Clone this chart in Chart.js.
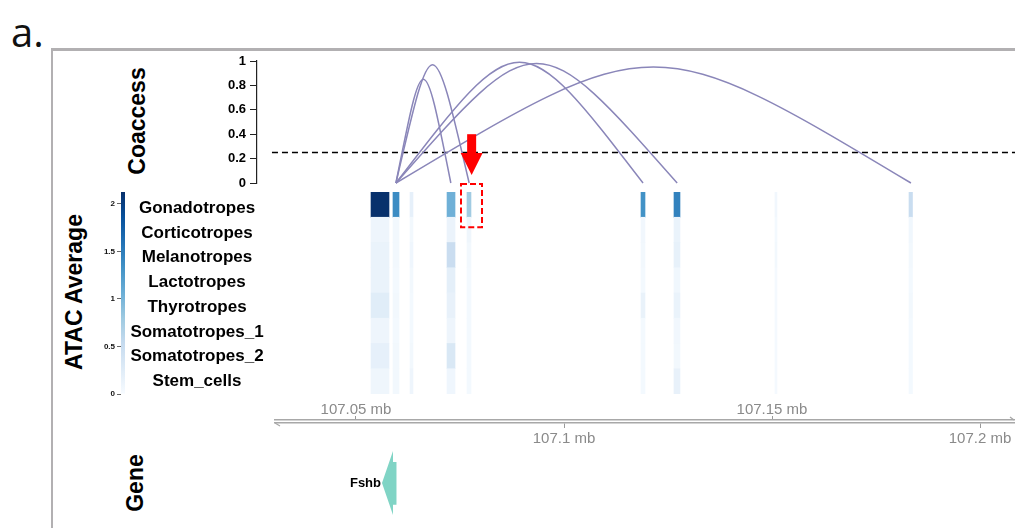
<!DOCTYPE html>
<html lang="en">
<head>
  <meta charset="UTF-8">
  <title>Fshb locus: coaccessibility and ATAC average</title>
  <script src="https://cdn.jsdelivr.net/npm/chart.js"></script>
  <style>
    html, body { margin: 0; padding: 0; background: #fff; }
    #stage { position: relative; width: 1015px; height: 528px; overflow: hidden; font-family: "Liberation Sans", Arial, sans-serif; }
    #stage canvas { position: absolute; left: 0; top: 0; }
    .frame { position: absolute; left: 51px; top: 48px; width: 1100px; height: 477px;
             border-top: 3px solid #b2b0b2; border-left: 2px solid #b2b0b2; border-bottom: 1px solid #e2e2e2; }
    .panel-label { position: absolute; left: 11px; top: 4px; font-family: "Open Sans", sans-serif; font-size: 40px; color: #111; }
    .track-title { position: absolute; font-weight: bold; font-size: 23px; color: #000; white-space: nowrap;
                   transform: translate(-50%, -50%) rotate(-90deg); }
  </style>
</head>
<body>
<div id="stage">
  <div class="frame"></div>
  <div class="panel-label">a.</div>
  <div class="track-title" style="left:137px; top:121px;">Coaccess</div>
  <div class="track-title" style="left:74px; top:292px;">ATAC Average</div>
  <div class="track-title" style="left:135px; top:483px;">Gene</div>
</div>
<script>
  // ---- data (positions in mb on the chromosome) ----
  const cellTypes = ['Gonadotropes', 'Corticotropes', 'Melanotropes', 'Lactotropes',
                     'Thyrotropes', 'Somatotropes_1', 'Somatotropes_2', 'Stem_cells'];

  // ATAC peaks shown in the heatmap
  const peakStart = [107.05361, 107.05889, 107.06298, 107.07188, 107.07668, 107.11851, 107.12644, 107.15072, 107.18293];
  const peakEnd   = [107.05793, 107.06034, 107.06370, 107.07380, 107.07764, 107.11947, 107.12788, 107.15120, 107.18377];

  // average accessibility per peak, one value per cell type (same order as cellTypes)
  const atacAvg = [
    [2.12, 0.10, 0.14, 0.14, 0.24, 0.10, 0.18, 0.09],
    [1.38, 0.05, 0.05, 0.04, 0.05, 0.04, 0.05, 0.05],
    [0.18, 0.05, 0.08, 0.05, 0.04, 0.04, 0.05, 0.10],
    [1.04, 0.13, 0.49, 0.20, 0.16, 0.10, 0.32, 0.08],
    [0.78, 0.09, 0.05, 0.04, 0.04, 0.04, 0.04, 0.04],
    [1.33, 0.06, 0.05, 0.04, 0.15, 0.04, 0.04, 0.04],
    [1.46, 0.14, 0.17, 0.07, 0.14, 0.06, 0.05, 0.16],
    [0.06, 0.04, 0.05, 0.03, 0.03, 0.03, 0.03, 0.03],
    [0.50, 0.07, 0.05, 0.04, 0.05, 0.04, 0.04, 0.04]
  ];

  // coaccessibility links from the Fshb promoter peak
  const linkAnchor = 107.0596;
  const linkEnd   = [107.0728, 107.0772, 107.1190, 107.1272, 107.1834];
  const linkScore = [0.85, 0.97, 0.99, 0.98, 0.95];
  const coaccessCutoff = 0.25;
  const coaccessTicks = [0, 0.2, 0.4, 0.6, 0.8, 1];

  // colour bar
  const colorbarMax = 2.125;
  const colorbarTicks = [0, 0.5, 1, 1.5, 2];

  // genome axis
  const axisTicks = [107.05, 107.1, 107.15, 107.2];

  // gene model
  const geneName = 'Fshb';
  const geneStart = 107.05625;
  const geneEnd = 107.05973;

  // highlighted peak (red arrow + box)
  const highlightPos = 107.0778;
  const highlightStart = 107.07524;
  const highlightEnd = 107.08029;

  // ---- view ----
  const W = 1015, H = 528;
  const X_MIN = 107.026202, X_MAX = 107.208413;   // track panels (left edge 257px)
  const AXIS_MIN = 107.030529;                      // genome axis starts a bit further right
  const FONT = '"Liberation Sans", Arial, sans-serif';
  const ARC_COLOR = '#8a86b9';
  const BLUES = ['#f7fbff', '#deebf7', '#c6dbef', '#9ecae1', '#6baed6', '#4292c6', '#2171b5', '#08519c', '#08306b'];

  function hexRgb(h) { return [1, 3, 5].map(i => parseInt(h.substr(i, 2), 16)); }
  function blues(t) {
    t = Math.max(0, Math.min(1, t));
    const p = t * (BLUES.length - 1);
    const i = Math.min(Math.floor(p), BLUES.length - 2);
    const f = p - i;
    const a = hexRgb(BLUES[i]), b = hexRgb(BLUES[i + 1]);
    const c = a.map((v, k) => Math.round(v + (b[k] - v) * f));
    return `rgb(${c[0]},${c[1]},${c[2]})`;
  }

  const stage = document.getElementById('stage');
  function newCanvas() {
    const c = document.createElement('canvas');
    c.width = W; c.height = H;
    stage.appendChild(c);
    return c.getContext('2d');
  }

  const base = {
    responsive: false,
    animation: false,
    events: [],
    plugins: { legend: { display: false }, tooltip: { enabled: false } }
  };

  // ---- 1. coaccess arcs ----
  const arcPlugin = {
    id: 'arcs',
    afterDatasetsDraw(chart) {
      const { ctx, scales: { x, y } } = chart;
      ctx.save();
      ctx.strokeStyle = ARC_COLOR;
      ctx.lineWidth = 1.5;
      const x0 = x.getPixelForValue(linkAnchor);
      const yBase = y.getPixelForValue(0);
      linkEnd.forEach((end, i) => {
        const x1 = x.getPixelForValue(end);
        const xm = (x0 + x1) / 2;
        const yc = y.getPixelForValue(linkScore[i] * 4 / 3);   // cubic peak = 3/4 of control height
        ctx.beginPath();
        ctx.moveTo(x0, yBase);
        ctx.bezierCurveTo(xm, yc, xm, yc, x1, yBase);
        ctx.stroke();
      });
      // red arrow pointing at the highlighted peak
      const xa = x.getPixelForValue(highlightPos);
      const yTop = y.getPixelForValue(0.4), yMid = y.getPixelForValue(0.245), yTip = y.getPixelForValue(0.065);
      ctx.fillStyle = '#ff0000';
      ctx.fillRect(xa - 4.5, yTop, 9, yMid - yTop + 1);
      ctx.beginPath();
      ctx.moveTo(xa - 11, yMid);
      ctx.lineTo(xa + 11, yMid);
      ctx.lineTo(xa, yTip);
      ctx.closePath();
      ctx.fill();
      ctx.restore();
    }
  };

  new Chart(newCanvas(), {
    type: 'scatter',
    data: {
      datasets: [{
        data: [{ x: 107.0298, y: coaccessCutoff }, { x: X_MAX, y: coaccessCutoff }],
        showLine: true, borderColor: '#000', borderWidth: 1.3, borderDash: [6, 4], pointRadius: 0
      }]
    },
    options: {
      ...base,
      layout: { padding: { left: 197, top: 61, right: 0, bottom: H - 183 } },
      scales: {
        x: { type: 'linear', display: false, min: X_MIN, max: X_MAX },
        y: {
          min: 0, max: 1,
          afterFit(s) { s.width = 60; },
          afterBuildTicks(s) { s.ticks = coaccessTicks.map(v => ({ value: v })); },
          border: { display: true, color: '#222', width: 1.2 },
          grid: { drawOnChartArea: false, drawTicks: true, tickLength: 7, color: '#222' },
          ticks: { padding: 4, color: '#000', font: { family: FONT, size: 13, weight: 'bold' },
                   callback: v => String(v) }
        }
      }
    },
    plugins: [arcPlugin]
  });

  // ---- 2. ATAC heatmap ----
  const heatPlugin = {
    id: 'heatLabels',
    afterDraw(chart) {
      const { ctx, scales: { x, y }, chartArea } = chart;
      ctx.save();
      ctx.fillStyle = '#000';
      ctx.font = `bold 17px ${FONT}`;
      ctx.textAlign = 'center';
      ctx.textBaseline = 'middle';
      const n = cellTypes.length;
      cellTypes.forEach((name, i) => ctx.fillText(name, 197, y.getPixelForValue(i) + 3.5 * (n - 1 - i) / (n - 1)));
      // red dashed box around the highlighted peak
      const rowH = y.getPixelForValue(1) - y.getPixelForValue(0);
      const bx0 = x.getPixelForValue(highlightStart), bx1 = x.getPixelForValue(highlightEnd);
      const by0 = chartArea.top - 8, by1 = chartArea.top + rowH + 10;
      ctx.strokeStyle = '#ff0000';
      ctx.lineWidth = 2;
      ctx.setLineDash([6, 3]);
      ctx.strokeRect(bx0, by0, bx1 - bx0, by1 - by0);
      ctx.restore();
    }
  };

  new Chart(newCanvas(), {
    type: 'bar',
    data: {
      labels: cellTypes,
      datasets: peakStart.map((s, j) => ({
        data: cellTypes.map(() => [s, peakEnd[j]]),
        backgroundColor: atacAvg[j].map(v => blues(v / colorbarMax)),
        borderWidth: 0,
        barPercentage: 1,
        categoryPercentage: 1,
        grouped: false
      }))
    },
    options: {
      ...base,
      indexAxis: 'y',
      layout: { padding: { left: 257, top: 192, right: 0, bottom: H - 394 } },
      scales: {
        x: { type: 'linear', display: false, min: X_MIN, max: X_MAX },
        y: { display: false }
      }
    },
    plugins: [heatPlugin]
  });

  // ---- 3. colour bar ----
  new Chart(newCanvas(), {
    type: 'bar',
    data: {
      labels: [''],
      datasets: [{
        data: [[0, colorbarMax]],
        barPercentage: 1,
        categoryPercentage: 1,
        borderWidth: 0,
        backgroundColor(ctx) {
          const area = ctx.chart.chartArea;
          if (!area) return BLUES[0];
          const g = ctx.chart.ctx.createLinearGradient(0, area.bottom, 0, area.top);
          BLUES.forEach((c, i) => g.addColorStop(i / (BLUES.length - 1), c));
          return g;
        }
      }]
    },
    options: {
      ...base,
      layout: { padding: { left: 91, top: 192, right: W - 125, bottom: H - 394 } },
      scales: {
        x: { display: false },
        y: {
          min: 0, max: colorbarMax,
          afterFit(s) { s.width = 30; },
          afterBuildTicks(s) { s.ticks = colorbarTicks.map(v => ({ value: v })); },
          border: { display: false },
          grid: { drawOnChartArea: false, drawTicks: true, tickLength: 4, color: '#666' },
          ticks: { padding: 2, color: '#111', font: { family: FONT, size: 8, weight: 'bold' },
                   callback: v => String(v) }
        }
      }
    }
  });

  // ---- 4. genome axis ----
  const axisEnds = {
    id: 'axisEnds',
    afterDraw(chart) {
      const { ctx, chartArea: a } = chart;
      ctx.save();
      ctx.strokeStyle = '#a8a8a8';
      ctx.lineWidth = 1.2;
      ctx.beginPath();
      ctx.moveTo(a.left, a.bottom); ctx.lineTo(a.left + 5, a.bottom + 3);
      ctx.moveTo(a.right - 1, a.top); ctx.lineTo(a.right - 5, a.top - 3);
      ctx.stroke();
      ctx.restore();
    }
  };
  const axisTickStyle = { color: '#8a8a8a', autoSkip: false, maxRotation: 0,
                          font: { family: FONT, size: 15, lineHeight: 1 }, callback: v => `${v} mb` };

  new Chart(newCanvas(), {
    type: 'scatter',
    data: { datasets: [] },
    options: {
      ...base,
      layout: { padding: { left: 275, top: 400, right: 0, bottom: H - 423 - 20 } },
      scales: {
        x: {
          type: 'linear', position: 'bottom', min: AXIS_MIN, max: X_MAX,
          afterFit(s) { s.height = 20; },
          afterBuildTicks(s) { s.ticks = axisTicks.filter((_, i) => i % 2 === 1).map(v => ({ value: v })); },
          border: { display: true, color: '#a8a8a8', width: 1.5 },
          grid: { drawOnChartArea: false, drawTicks: true, tickLength: 5, color: '#9a9a9a' },
          ticks: { ...axisTickStyle, padding: 3 }
        },
        xTop: {
          type: 'linear', position: 'top', min: AXIS_MIN, max: X_MAX,
          afterFit(s) { s.height = 20; },
          afterBuildTicks(s) { s.ticks = axisTicks.filter((_, i) => i % 2 === 0).map(v => ({ value: v })); },
          border: { display: true, color: '#a8a8a8', width: 1.5 },
          grid: { drawOnChartArea: false, drawTicks: true, tickLength: 4, color: '#9a9a9a' },
          ticks: { ...axisTickStyle, padding: -1 }
        },
        y: { display: false, min: 0, max: 1 }
      }
    },
    plugins: [axisEnds]
  });

  // ---- 5. gene track ----
  const genePlugin = {
    id: 'gene',
    afterDatasetsDraw(chart) {
      const { ctx, scales: { x, y } } = chart;
      const xs = x.getPixelForValue(geneStart), xe = x.getPixelForValue(geneEnd);
      const head = Math.min(11, xe - xs);
      const yMid = y.getPixelForValue(0.5);
      ctx.save();
      ctx.fillStyle = '#80d4c5';
      ctx.beginPath();
      ctx.moveTo(xs, yMid);
      ctx.lineTo(xs + head, y.getPixelForValue(1));
      ctx.lineTo(xs + head, y.getPixelForValue(0.83));
      ctx.lineTo(xe, y.getPixelForValue(0.83));
      ctx.lineTo(xe, y.getPixelForValue(0.16));
      ctx.lineTo(xs + head, y.getPixelForValue(0.16));
      ctx.lineTo(xs + head, y.getPixelForValue(0));
      ctx.closePath();
      ctx.fill();
      ctx.fillStyle = '#000';
      ctx.font = `bold 13px ${FONT}`;
      ctx.textAlign = 'right';
      ctx.textBaseline = 'middle';
      ctx.fillText(geneName, xs - 1, yMid);
      ctx.restore();
    }
  };

  new Chart(newCanvas(), {
    type: 'scatter',
    data: { datasets: [] },
    options: {
      ...base,
      layout: { padding: { left: 257, top: 451, right: 0, bottom: H - 515 } },
      scales: {
        x: { type: 'linear', display: false, min: X_MIN, max: X_MAX },
        y: { display: false, min: 0, max: 1 }
      }
    },
    plugins: [genePlugin]
  });
</script>
</body>
</html>
